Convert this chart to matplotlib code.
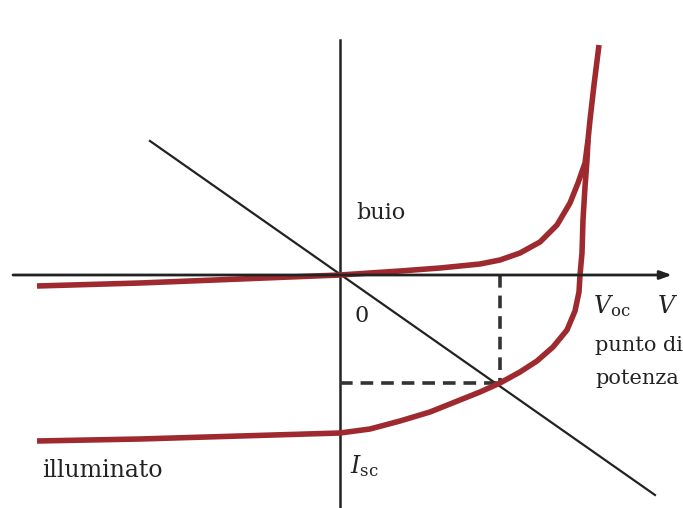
import matplotlib
matplotlib.use("Agg")
import matplotlib.pyplot as plt

# Dark (buio) I-V curve (V, I in arbitrary units)
dark_v = [-3.03, -2.00, -1.00, 0.00, 0.60, 1.00, 1.40, 1.60, 1.80, 2.00, 2.17, 2.30, 2.38, 2.45, 2.48, 2.50, 2.54, 2.59]
dark_i = [-0.11, -0.08, -0.04, 0.00, 0.04, 0.07, 0.11, 0.15, 0.22, 0.33, 0.50, 0.72, 0.92, 1.12, 1.35, 1.55, 1.90, 2.30]

# Illuminated (illuminato) I-V curve
illum_v = [-3.03, -2.00, -1.00, 0.00, 0.30, 0.60, 0.90, 1.20, 1.40, 1.60, 1.80, 1.97, 2.13, 2.27, 2.35, 2.39, 2.40, 2.42, 2.43, 2.45, 2.47, 2.48]
illum_i = [-1.66, -1.64, -1.61, -1.58, -1.54, -1.46, -1.37, -1.25, -1.17, -1.08, -0.97, -0.86, -0.72, -0.55, -0.36, -0.17, 0.00, 0.22, 0.55, 0.88, 1.15, 1.35]

# Load line (through origin) end points
load_v = [-1.90, 3.15]
load_i = [1.34, -2.20]

# Maximum power point
mpp_v = 1.60
mpp_i = -1.08

plt.rcParams['mathtext.fontset'] = 'dejavuserif'
fig = plt.figure(figsize=(6.83, 5.08), dpi=100)
ax = fig.add_axes([0, 0, 1, 1])
ax.set_xlim(-3.40, 3.43)
ax.set_ylim(-2.33, 2.75)
ax.axis('off')

axis_col = '#222222'
red = '#9e2a2f'

# axes
ax.annotate('', xy=(3.32, 0.0), xytext=(-3.27, 0.0),
            arrowprops=dict(arrowstyle='-|>,head_length=0.7,head_width=0.25',
                            color=axis_col, lw=2.0, shrinkA=0, shrinkB=0))
ax.plot([0, 0], [-2.33, 2.35], color=axis_col, lw=1.8)

# load line
ax.plot(load_v, load_i, color=axis_col, lw=1.6)

# dashed lines to max power point
ax.plot([mpp_v, mpp_v], [0, mpp_i], color='#333333', lw=2.6, ls=(0, (3.5, 2.2)))
ax.plot([0, mpp_v], [mpp_i, mpp_i], color='#333333', lw=2.6, ls=(0, (3.5, 2.2)))

# curves
ax.plot(dark_v, dark_i, color=red, lw=4.0, solid_capstyle='butt', solid_joinstyle='round')
ax.plot(illum_v, illum_i, color=red, lw=4.0, solid_capstyle='butt', solid_joinstyle='round')

fs = 16
fam = 'DejaVu Serif'
tc = '#222222'
ax.text(0.16, 0.56, 'buio', fontsize=fs, family=fam, color=tc)
ax.text(0.14, -0.47, '0', fontsize=fs, family=fam, color=tc)
ax.text(2.53, -0.38, r'$V_{\mathrm{oc}}$', fontsize=fs + 1, color=tc)
ax.text(3.17, -0.38, r'$V$', fontsize=fs + 1, color=tc)
ax.text(2.55, -0.76, 'punto di', fontsize=15, family=fam, color=tc)
ax.text(2.55, -1.09, 'potenza', fontsize=15, family=fam, color=tc)
ax.text(-2.98, -2.02, 'illuminato', fontsize=17, family=fam, color=tc)
ax.text(0.10, -1.98, r'$I_{\mathrm{sc}}$', fontsize=fs + 1, color=tc)

fig.savefig('out.png', dpi=100)
